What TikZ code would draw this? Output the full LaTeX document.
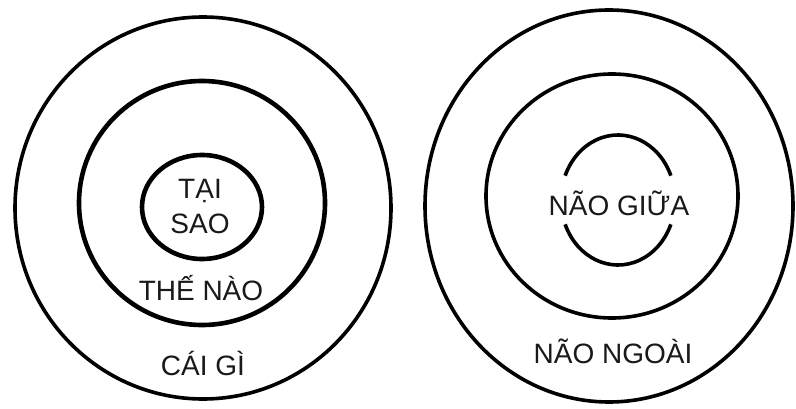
\documentclass[tikz,border=0pt]{standalone}
\usepackage{fontspec}
\setmainfont{Liberation Sans}
\begin{document}
\begin{tikzpicture}[x=1pt,y=1pt,
  ring/.style={draw=black,line width=3.6pt},
  thickring/.style={draw=black,line width=4.6pt},
  lbl/.style={anchor=base,inner sep=0pt,font=\fontsize{28}{30}\selectfont,text=black!90}]
\useasboundingbox (0,0) rectangle (796,408);
% left diagram
\draw[ring] (203,200) ellipse [x radius=188, y radius=191];
\draw[thickring] (202,205) ellipse [x radius=123, y radius=122];
\draw[thickring] (202,201) ellipse [x radius=60, y radius=52];
\node[lbl] (tai) at (200,210) {TẠI};
\node[lbl] (sao) at (200,175) {SAO};
\node[lbl] (the) at (201,108) {THẾ NÀO};
\node[lbl] (cai) at (203,33) {CÁI GÌ};
% right diagram
\draw[ring] (609,202) ellipse [x radius=184, y radius=196];
\draw[ring] (612,212) ellipse [x radius=126, y radius=122];
\draw[ring] (618,208) ++(22:57 and 65) arc [start angle=22, end angle=158, x radius=57, y radius=65];
\draw[ring] (618,208) ++(202:57 and 65) arc [start angle=202, end angle=338, x radius=57, y radius=65];
\node[lbl] (giua) at (619,193) {NÃO GIỮA};
\node[lbl] (ngoai) at (613,45) {NÃO NGOÀI};
\end{tikzpicture}
\end{document}
